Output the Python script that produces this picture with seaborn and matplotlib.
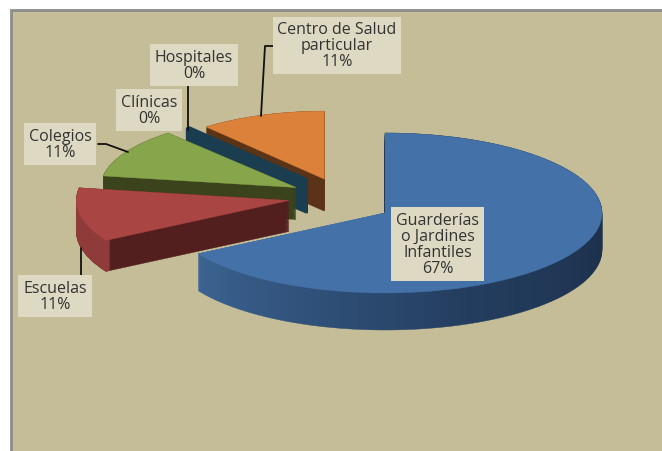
import numpy as np
import matplotlib
matplotlib.use('Agg')
import matplotlib.pyplot as plt
from matplotlib.patches import Rectangle
import seaborn as sns

# datos del grafico
categorias = ['Guarderías\no Jardines\nInfantiles', 'Escuelas', 'Colegios', 'Clínicas', 'Hospitales', 'Centro de Salud\nparticular']
valores = [66.7, 11.1, 11.1, 0.0, 0.3, 11.1]

# estilo de las porciones
col_arriba = ['#4472A8', '#A94543', '#87A54B', '#1A3D50', '#1A3D50', '#DC813A']
col_corte = ['#1B2D45', '#521F1E', '#3A431C', '#1A3D50', '#1A3D50', '#5B3317']
col_borde = ['#1B2D45', '#8F3B39', '#3A431C', '#1A3D50', '#1A3D50', '#5B3317']
explode = [0, 0.45, 0.47, 0.55, 0.55, 0.45]
radios = [1.0, 0.98, 0.90, 0.85, 0.85, 0.85]
ajuste = [(0, 0), (0, 0.24), (0, 0.09), (0, 0), (0, 0), (-0.126, 0)]
prof_px = [37, 31, 32, 33, 33, 32]
orden = [50, 40, 30, 25, 20, 10]

RX, RY = 217.0, 80.0
CX, CY = 385.0, 214.0


def px(x, y):
    return (x - CX) / RX, (CY - y) / RY


sns.set_theme(style='white')
plt.rcParams['font.family'] = ['Open Sans', 'DejaVu Sans']

fig = plt.figure(figsize=(6.62, 4.52), dpi=100, facecolor='white')
ax = fig.add_axes([0, 0, 1, 1])


def colocar(cuna, i, frac, z):
    c = cuna.center
    cuna.set_center((c[0] + ajuste[i][0], c[1] + ajuste[i][1] - frac * prof_px[i] / RY))
    cuna.set_radius(radios[i])
    cuna.set_zorder(z)


def pastel(vals, cols, expl):
    w, _ = ax.pie(vals, colors=cols, startangle=90, counterclock=False,
                  explode=expl, wedgeprops=dict(linewidth=0.3))
    for cuna, col in zip(w, cols):
        cuna.set_edgecolor(col)
    return w


# cara lateral: capas apiladas, de abajo hacia arriba
n_capas = 38
for k, frac in enumerate(np.linspace(1, 0, n_capas)):
    cunas = pastel(valores, col_corte, explode)
    for i, cuna in enumerate(cunas):
        if i == 0:
            cuna.set_visible(False)
            continue
        colocar(cuna, i, frac, orden[i] + k * 0.01)
        # la porcion de hospitales es tan fina que necesita mas trazo
        if i in (3, 4):
            cuna.set_linewidth(1.4)

    # borde exterior de escuelas, mas claro que el corte
    cunas = pastel(valores, col_borde, explode)
    for i, cuna in enumerate(cunas):
        if i == 1:
            colocar(cuna, i, frac, orden[i] + 0.5 + k * 0.01)
            cuna.set_width(0.02)
        else:
            cuna.set_visible(False)

# borde de guarderias con degradado
n_partes = 96
degradado = sns.blend_palette(['#1A2C44', '#1B2D47', '#243E60', '#3B6290'], n_partes)
partes = [valores[0] / n_partes] * n_partes + valores[1:]
cols_partes = list(degradado) + col_corte[1:]
for k, frac in enumerate(np.linspace(1, 0, n_capas)):
    cunas = pastel(partes, cols_partes, [0] * len(partes))
    for j, cuna in enumerate(cunas):
        if j < n_partes:
            colocar(cuna, 0, frac, orden[0] + k * 0.01)
        else:
            cuna.set_visible(False)

# cara superior
cunas = pastel(valores, col_arriba, explode)
for i, cuna in enumerate(cunas):
    colocar(cuna, i, 0, orden[i] + 0.9)

ax.set_aspect('auto')
x0, y1 = px(0, 0)
x1, y0 = px(662, 452)
ax.set_xlim(x0, x1)
ax.set_ylim(y0, y1)
ax.set_axis_off()

# fondo del grafico
esq = px(11, 470)
ax.add_patch(Rectangle(esq, (680 - 11) / RX, (470 - 11) / RY, facecolor='#C4BD97',
                       edgecolor='#8C8C8C', linewidth=2, zorder=1))

# lineas guia
guias = [
    ([273, 265, 261], [47, 47, 117]),
    ([188, 188], [85, 131]),
    ([98, 106, 128], [145, 145, 153]),
    ([81, 81], [249, 277]),
]
for xs, ys in guias:
    dx, dy = px(np.array(xs, dtype=float), np.array(ys, dtype=float))
    ax.plot(dx, dy, color='#111111', lw=1.3, zorder=70)

# etiquetas
pos_etiquetas = [(437.5, 245), (55, 297), (60, 145), (149, 111), (194, 66), (337, 46.5)]
for nombre, v, (ex, ey) in zip(categorias, valores, pos_etiquetas):
    tx, ty = px(ex, ey)
    ax.text(tx, ty, f'{nombre}\n{round(v)}%', ha='center', va='center', fontsize=11.5,
            color='#333333', linespacing=1.0, zorder=80,
            bbox=dict(boxstyle='square,pad=0.3', facecolor='#DDD9C3', edgecolor='none'))

fig.savefig('out.png', dpi=100)
